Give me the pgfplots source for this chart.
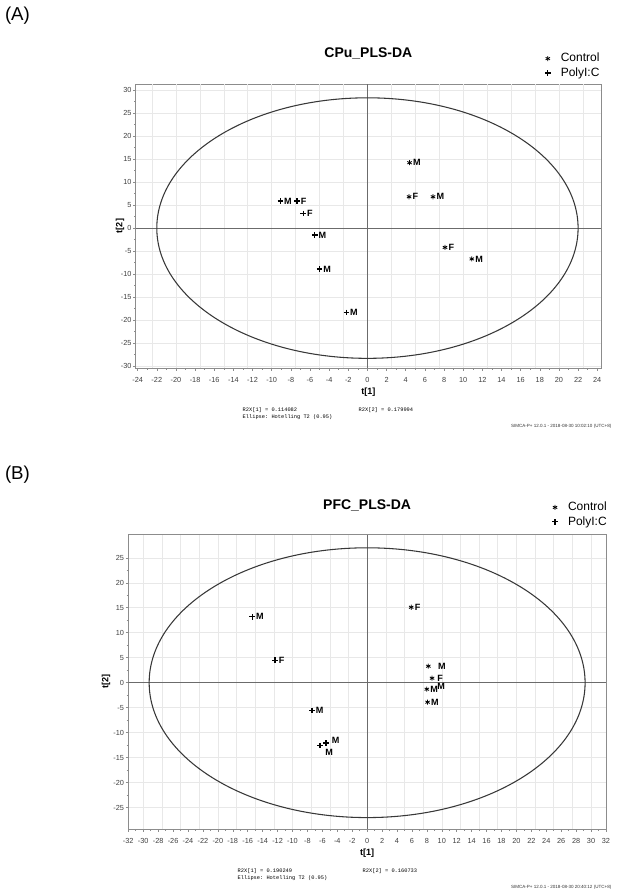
\documentclass[border=0pt]{standalone}
\usepackage{fontspec}
\setmainfont{Liberation Sans}
\setmonofont{Liberation Mono}
\usepackage{pgfplots}
\pgfplotsset{compat=1.18}

\definecolor{gridgray}{gray}{0.91}
\definecolor{framegray}{gray}{0.55}
\definecolor{zerogray}{gray}{0.42}
\definecolor{ellgray}{gray}{0.22}

\pgfplotsset{
  simca/.style={
    scale only axis,
    axis line style={framegray, line width=0.5pt},
    tick style={framegray, line width=0.4pt},
    tick align=outside,
    major tick length=2pt, minor tick length=1.2pt,
    xtick pos=bottom, ytick pos=left,
    minor x tick num=1, minor y tick num=1,
    ymajorgrids, grid style={gridgray, line width=0.4pt},
    extra x tick labels={},
    extra x tick style={grid=major, major tick length=0pt},
    ticklabel style={font=\fontsize{5.5}{6}\selectfont, text=black!75},
    /pgf/number format/assume math mode=true,
    xticklabel style={yshift=-1.2pt},
    yticklabel style={inner sep=1pt},
    every axis x label/.style={at={(rel axis cs:0.5,0)}, anchor=center, yshift=-18pt,
      font=\fontsize{6.8}{7}\selectfont\bfseries},
    every axis y label/.style={anchor=center, rotate=90,
      font=\fontsize{6.8}{7}\selectfont\bfseries},
    title style={font=\fontsize{10.5}{12}\selectfont\bfseries, anchor=center},
    legend style={draw=none, fill=none, inner sep=0pt, row sep=1.6pt,
      font=\fontsize{9}{10}\selectfont, nodes={inner sep=0.6pt},
      /tikz/every odd column/.append style={column sep=7pt}},
    legend cell align=left,
    legend image code/.code={\draw[#1] plot coordinates {(0pt,0pt)};},
  },
  ctrl/.style={only marks, mark=asterisk, mark size=1.9pt,
    mark options={line width=0.6pt, black}},
  poly/.style={only marks, mark=+, mark size=2.1pt,
    mark options={line width=1pt, black}},
  lab/.style={nodes near coords, point meta=explicit symbolic,
    nodes near coords style={font=\fontsize{6.8}{7}\selectfont\bfseries,
      anchor=west, inner sep=0pt, xshift=2.4pt, text=black}},
}

\begin{document}
\begin{tikzpicture}
\path[use as bounding box] (0,0) rectangle (464.25pt,-669.75pt);

\node[font=\fontsize{14}{16}\selectfont] at (13.1pt,-12pt) {(A)};
\node[font=\fontsize{14}{16}\selectfont] at (13.1pt,-356pt) {(B)};

% ---------- (A) CPu ----------
\begin{axis}[simca,
  at={(101.8pt,-276pt)}, anchor=south west,
  width=349pt, height=213pt,
  xmin=-24.2, xmax=24.4, ymin=-30.4, ymax=31.3,
  xtick={-24,-22,...,24}, ytick={-30,-25,...,30},
  extra x ticks={-22.5,-20,...,22.5},
  title={CPu\_PLS-DA}, title style={at={(rel axis cs:0.5,1)}, yshift=17pt},
  xlabel={t[1]}, ylabel={t[2]},
  ylabel style={at={(rel axis cs:-0.034,0.5)}},
  legend style={at={(rel axis cs:0.879,1.112)}, anchor=north west},
]
\addlegendimage{ctrl}\addlegendentry{Control}
\addlegendimage{poly}\addlegendentry{PolyI:C}

\draw[zerogray, line width=0.6pt] (0,-30.4) -- (0,31.3);
\draw[zerogray, line width=0.6pt] (-24.2,0) -- (24.4,0);
\draw[ellgray, line width=0.8pt] (0,0) ellipse [x radius=22.0, y radius=28.3];

\addplot[ctrl, lab, forget plot] table[meta=lab] {
x y lab
4.4 14.2 M
4.35 6.8 F
6.85 6.8 M
8.1 -4.2 F
10.9 -6.7 M
};
\addplot[poly, lab, forget plot] table[meta=lab] {
x y lab
-9.1 5.9 M
-7.35 5.9 F
-6.7 3.2 F
-5.5 -1.5 M
-5.0 -8.9 M
-2.2 -18.3 M
};
\end{axis}

\node[font=\ttfamily\fontsize{4}{4.5}\selectfont, anchor=west] at (178.5pt,-307.5pt) {R2X[1] = 0.114082};
\node[font=\ttfamily\fontsize{4}{4.5}\selectfont, anchor=west] at (265.5pt,-307.5pt) {R2X[2] = 0.179994};
\node[font=\ttfamily\fontsize{4}{4.5}\selectfont, anchor=west] at (178.5pt,-312.8pt) {Ellipse: Hotelling T2 (0.95)};
\node[font=\fontsize{3.4}{4}\selectfont, anchor=east, text=black!80] at (462pt,-319.5pt) {SIMCA-P+ 12.0.1 - 2018-08-30 10:02:10 (UTC+8)};

% ---------- (B) PFC ----------
\begin{axis}[simca,
  at={(96.2pt,-621.8pt)}, anchor=south west,
  width=358.3pt, height=220.7pt,
  xmin=-32, xmax=32, ymin=-29.3, ymax=29.6,
  xtick={-32,-30,...,32}, ytick={-25,-20,...,25},
  extra x ticks={-30,-27.5,...,30},
  title={PFC\_PLS-DA}, title style={at={(rel axis cs:0.5,1)}, yshift=16pt},
  xlabel={t[1]}, ylabel={t[2]},
  ylabel style={at={(rel axis cs:-0.0466,0.5)}},
  legend style={at={(rel axis cs:0.887,1.115)}, anchor=north west},
]
\addlegendimage{ctrl}\addlegendentry{Control}
\addlegendimage{poly}\addlegendentry{PolyI:C}

\draw[zerogray, line width=0.6pt] (0,-29.3) -- (0,29.6);
\draw[zerogray, line width=0.6pt] (-32,0) -- (32,0);
\draw[ellgray, line width=0.8pt] (0,0) ellipse [x radius=29.2, y radius=27.0];

\addplot[ctrl, lab, forget plot] table[meta=lab] {
x y lab
5.9 15.1 F
8.0 -1.3 M
8.1 -3.9 M
};
\addplot[ctrl, lab, forget plot, nodes near coords style={xshift=4.6pt}] table[meta=lab] {
x y lab
8.2 3.3 M
};
\addplot[ctrl, lab, forget plot, nodes near coords style={anchor=south west, xshift=1.2pt, yshift=-2.5pt}] table[meta=lab] {
x y lab
8.7 0.9 F
};
\node[font=\fontsize{6.8}{7}\selectfont\bfseries] at (9.9,-0.7) {M};

\addplot[poly, lab, forget plot] table[meta=lab] {
x y lab
-15.4 13.2 M
-12.35 4.5 F
-7.4 -5.6 M
};
\addplot[poly, lab, forget plot, nodes near coords style={anchor=north west, xshift=1pt, yshift=-2pt}] table[meta=lab] {
x y lab
-6.3 -12.6 M
};
\addplot[poly, lab, forget plot, nodes near coords style={anchor=south west, xshift=1.5pt, yshift=-1pt}] table[meta=lab] {
x y lab
-5.5 -12.1 M
};
\end{axis}

\node[font=\ttfamily\fontsize{4}{4.5}\selectfont, anchor=west] at (174.75pt,-653.25pt) {R2X[1] = 0.190249};
\node[font=\ttfamily\fontsize{4}{4.5}\selectfont, anchor=west] at (268.5pt,-653.25pt) {R2X[2] = 0.160733};
\node[font=\ttfamily\fontsize{4}{4.5}\selectfont, anchor=west] at (174.75pt,-658.5pt) {Ellipse: Hotelling T2 (0.95)};
\node[font=\fontsize{3.4}{4}\selectfont, anchor=east, text=black!80] at (462pt,-665.25pt) {SIMCA-P+ 12.0.1 - 2018-08-30 20:40:12 (UTC+8)};
\end{tikzpicture}
\end{document}
